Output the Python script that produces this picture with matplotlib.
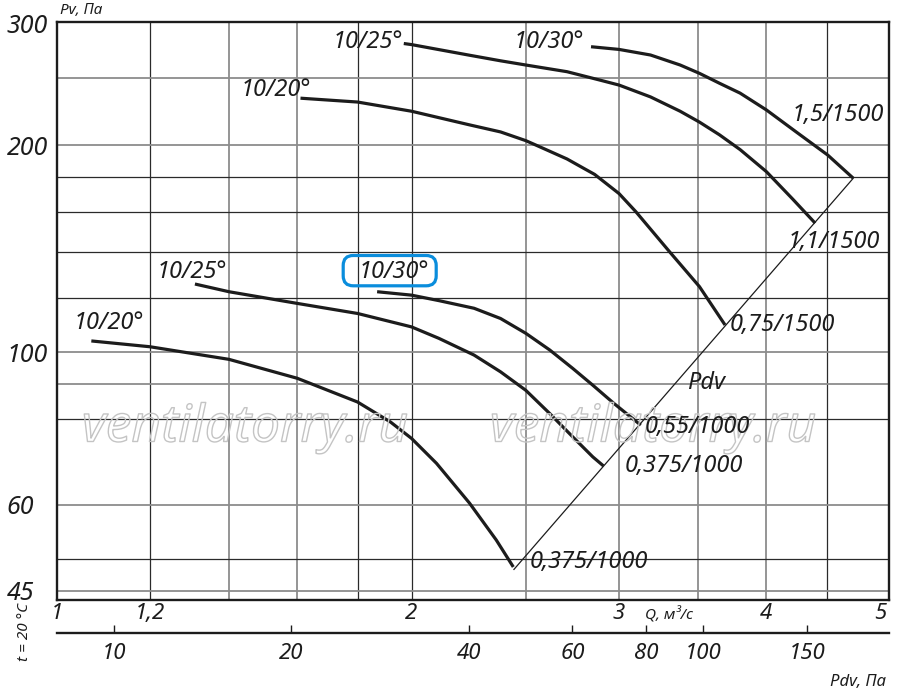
import numpy as np
import matplotlib
matplotlib.use('Agg')
import matplotlib.pyplot as plt
import matplotlib.patches as mpatches
import matplotlib.patheffects as pe
from matplotlib.transforms import IdentityTransform

# Fan curves, Q (m3/s) vs Pv (Pa)
q_a = [1.97, 2.0, 2.24, 2.38, 2.50, 2.71, 2.89, 3.0, 3.19, 3.38, 3.51, 3.65, 3.80, 4.0, 4.21, 4.40]   # 10/25 -> 1,1/1500
pv_a = [281, 280, 270.2, 265.2, 261.5, 255.7, 248.6, 244.5, 235, 224, 216, 207, 197, 183, 167, 154]
q_b = [1.61, 1.80, 2.0, 2.24, 2.38, 2.50, 2.55, 2.71, 2.80, 2.86, 3.0, 3.10, 3.31, 3.51, 3.69]   # 10/20 -> 0,75/1500
pv_b = [234, 231, 224, 214, 209, 203, 200, 190.9, 185, 181.3, 170, 160, 140, 124.5, 109.5]
q_c = [2.84, 3.0, 3.19, 3.38, 3.51, 3.65, 3.80, 4.0, 4.24, 4.51, 4.74]           # 10/30 -> 1,5/1500
pv_c = [278, 275.5, 270.4, 261.5, 254.3, 246, 238, 225, 209, 193.4, 179]
q_d = [1.31, 1.40, 1.60, 1.80, 2.0, 2.11, 2.26, 2.38, 2.50, 2.62, 2.74, 2.85, 2.91]  # 10/25 -> 0,375/1000
pv_d = [125.6, 122.4, 117.7, 113.8, 108.8, 104.7, 99.0, 93.6, 88.0, 81.4, 75.3, 70.4, 68.3]
q_e = [1.07, 1.20, 1.40, 1.60, 1.80, 1.92, 2.0, 2.10, 2.24, 2.36, 2.44]          # 10/20 -> 0,375/1000
pv_e = [103.8, 101.8, 97.6, 91.6, 84.6, 79.1, 74.9, 68.9, 60.3, 53.3, 48.7]
q_f = [1.87, 2.0, 2.11, 2.26, 2.38, 2.50, 2.62, 2.74, 2.85, 2.97, 3.13]          # 10/30 -> 0,55/1000
pv_f = [122.4, 121.0, 118.8, 115.8, 111.9, 106.5, 100.7, 94.7, 89.5, 84.2, 78.3]
curves = [(q_a, pv_a), (q_b, pv_b), (q_c, pv_c), (q_d, pv_d), (q_e, pv_e), (q_f, pv_f)]

# dynamic pressure line
q_pdv = [2.443, 4.739]
pv_pdv = [48.3, 178.9]

q_ticks = [1, 1.2, 2, 3, 4, 5]
q_tick_labels = ['1', '1,2', '2', '3', '4', '5']
pv_ticks = [45, 60, 100, 200, 300]
pdv_ticks = [10, 20, 40, 60, 80, 100, 150]

# curve labels: text, left x px, center y px
labels = [('10/25°', 333, 42), ('10/20°', 240.7, 90), ('10/30°', 513.3, 41.7),
          ('1,5/1500', 791.7, 115), ('1,1/1500', 788, 241.7), ('0,75/1500', 730, 325),
          ('10/25°', 156.7, 271.7), ('10/30°', 358.3, 271.7), ('10/20°', 74, 323.3),
          ('Pdv', 686.7, 383.3), ('0,55/1000', 645, 426.7), ('0,375/1000', 624.3, 466),
          ('0,375/1000', 529.3, 561.7)]

W, H = 900, 694
plt.rcParams['font.family'] = ['Noto Sans', 'DejaVu Sans']
plt.rcParams['font.style'] = 'italic'
ink = '#1c1c1c'


def fx(x):
    return x / W


def fy(y):
    return 1 - y / H


def q_to_pdv(q):
    return 8.0 * np.asarray(q) ** 2


def pdv_to_q(p):
    return np.sqrt(np.clip(np.asarray(p, dtype=float), 1e-12, None) / 8.0)


fig = plt.figure(figsize=(W / 100, H / 100), dpi=100)
ax = fig.add_axes([fx(56.7), fy(600), fx(888.7 - 56.7), (600 - 22) / H])
ax.set_xscale('log')
ax.set_yscale('log')
ax.set_xlim(1, 5.08)
ax.set_ylim(43.6, 302)

for v in [1.2, 1.8, 2.0, 4.5]:
    ax.axvline(v, color='#2a2a2a', lw=0.9, zorder=1)
for v in [1.4, 1.6, 2.5, 3.0, 3.5, 4.0]:
    ax.axvline(v, color='#8c8c8c', lw=1.3, zorder=1)
for v in [50, 80, 120, 140, 160, 180]:
    ax.axhline(v, color='#2a2a2a', lw=0.9, zorder=1)
for v in [45, 60, 90, 100, 200, 250]:
    ax.axhline(v, color='#8c8c8c', lw=1.3, zorder=1)

for q, p in curves:
    ax.plot(q, p, color=ink, lw=2.3, zorder=4, solid_capstyle='butt', solid_joinstyle='round')
ax.plot(q_pdv, pv_pdv, color=ink, lw=0.9, zorder=3)

for s in ax.spines.values():
    s.set_linewidth(1.7)
    s.set_color(ink)

ax.minorticks_off()
ax.set_xticks(q_ticks)
ax.set_xticklabels(q_tick_labels)
ax.set_xticks([], minor=True)
ax.set_yticks(pv_ticks)
ax.set_yticklabels([str(v) for v in pv_ticks])
ax.set_yticks([], minor=True)
ax.tick_params(axis='x', length=0, pad=2, labelsize=16, colors=ink)
ax.tick_params(axis='y', length=0, pad=36, labelsize=18, colors=ink)
for t in ax.get_yticklabels():
    t.set_ha('left')

sec = ax.secondary_xaxis(-0.057, functions=(q_to_pdv, pdv_to_q))
sec.set_xticks(pdv_ticks)
sec.set_xticklabels([str(v) for v in pdv_ticks])
sec.set_xticks([], minor=True)
sec.tick_params(axis='x', direction='in', length=6, width=1, pad=7, labelsize=16, colors=ink)
sec.spines['bottom'].set_linewidth(1.7)
sec.spines['bottom'].set_color(ink)

for txt, x, y in labels:
    fig.text(fx(x), fy(y), txt, ha='left', va='center', fontsize=17, color=ink)

fig.text(fx(60), fy(10), 'Pv, Па', ha='left', va='center', fontsize=11, color=ink)
fig.text(fx(645), fy(615), 'Q, м³/с', ha='left', va='center', fontsize=11, color=ink)
fig.text(fx(830), fy(682), 'Pdv, Па', ha='left', va='center', fontsize=12, color=ink)
fig.text(fx(24), fy(632), 't = 20 °C', ha='center', va='center', rotation=90, fontsize=11, color=ink)

# watermark
for cx in [245, 653]:
    fig.text(fx(cx), fy(428), 'ventilatorry.ru', ha='center', va='center', fontsize=37,
             color='none', zorder=2,
             path_effects=[pe.Stroke(linewidth=1.0, foreground='#c4c4c4')])

# highlight box
box = mpatches.FancyBboxPatch((343.2, H - 285.8), 93, 30.3,
                              boxstyle='round,pad=0,rounding_size=10',
                              transform=IdentityTransform(), fill=False,
                              edgecolor='#0a8ddc', lw=2.3)
fig.add_artist(box)

fig.savefig('out.png', dpi=100)
